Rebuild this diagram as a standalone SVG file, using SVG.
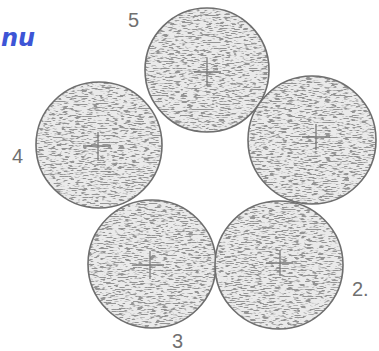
<svg xmlns="http://www.w3.org/2000/svg" width="379" height="351" viewBox="0 0 379 351">
<style>
.disc{fill:#eaeaea;filter:url(#stipple)}
.rim{fill:none;stroke:#6e6e6e;stroke-width:1.6}
.cross{stroke:#7a7a7a;stroke-width:1.3;fill:none}
.num{font-family:"Liberation Sans",Arial,sans-serif;font-size:20px;fill:#707070}
.hand{font-family:"DejaVu Sans",sans-serif;font-style:italic;font-weight:bold;font-size:24px;fill:#3d55d6}
</style>
<defs>
<filter id="stipple" x="0" y="0" width="100%" height="100%">
<feTurbulence type="fractalNoise" baseFrequency="0.16 0.85" numOctaves="2" seed="5" result="n"/>
<feColorMatrix in="n" type="matrix" values="0 0 0 0 0.3  0 0 0 0 0.3  0 0 0 0 0.3  -7 0 0 0 3.5" result="d"/>
<feComposite in="d" in2="SourceGraphic" operator="in" result="dots"/>
<feMerge><feMergeNode in="SourceGraphic"/><feMergeNode in="dots"/></feMerge>
</filter>
</defs>
<rect width="379" height="351" fill="#ffffff"/>
<text class="hand" x="1" y="46">nu</text>
<g id="disc5">
<circle class="disc" cx="207" cy="70" r="62"/>
<circle class="rim" cx="207" cy="70" r="62"/>
<path class="cross" d="M194 72H221M207 58V86"/>
</g>
<g id="disc1">
<circle class="disc" cx="312" cy="140" r="64"/>
<circle class="rim" cx="312" cy="140" r="64"/>
<path class="cross" d="M302 137H330M316 124V150"/>
</g>
<g id="disc4">
<circle class="disc" cx="99" cy="145" r="63"/>
<circle class="rim" cx="99" cy="145" r="63"/>
<path class="cross" d="M83 146H111M98 132V160"/>
</g>
<g id="disc3">
<circle class="disc" cx="152" cy="264" r="64"/>
<circle class="rim" cx="152" cy="264" r="64"/>
<path class="cross" d="M136 265H164M150 251V279"/>
</g>
<g id="disc2">
<circle class="disc" cx="279" cy="265" r="64"/>
<circle class="rim" cx="279" cy="265" r="64"/>
<path class="cross" d="M266 263H293M280 250V276"/>
</g>
<text class="num" x="128" y="27">5</text>
<text class="num" x="12" y="163">4</text>
<text class="num" x="172" y="348">3</text>
<text class="num" x="352" y="296">2.</text>
</svg>
